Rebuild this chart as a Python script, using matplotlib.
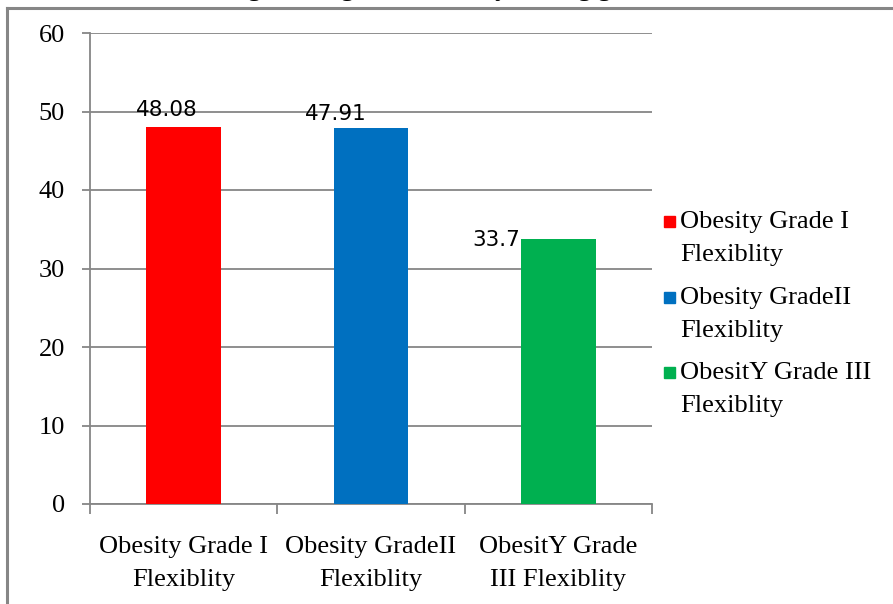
import matplotlib
matplotlib.use("Agg")
import matplotlib.pyplot as plt
from matplotlib.patches import Rectangle

# flexibility scores by obesity grade
categories = ["Obesity Grade I\nFlexiblity",
              "Obesity GradeII\nFlexiblity",
              "ObesitY Grade\nIII Flexiblity"]
legend_labels = ["Obesity Grade I\nFlexiblity",
                 "Obesity GradeII\nFlexiblity",
                 "ObesitY Grade III\nFlexiblity"]
values = [48.08, 47.91, 33.7]
value_text = ["48.08", "47.91", "33.7"]
colors = ["#FF0000", "#0070C0", "#00B050"]
yticks = [0, 10, 20, 30, 40, 50, 60]

W, H = 893, 604
grey = "#868686"
serif = "Liberation Serif"

fig = plt.figure(figsize=(W / 100, H / 100), dpi=100)

def fx(px):
    return px / W

def fy(px):
    return 1 - px / H

# outer chart frame (only the left and top edges fall inside the image)
fig.add_artist(plt.Line2D([fx(7), fx(7)], [fy(8), 0], color=grey, lw=2.2,
                          transform=fig.transFigure))
fig.add_artist(plt.Line2D([fx(7), 1], [fy(8), fy(8)], color=grey, lw=2.2,
                          transform=fig.transFigure))

# title sits above the visible area, only its descenders show
fig.text(0.46, fy(-4), "Percentage Change in flexibility among grades",
         ha="center", va="baseline", fontsize=19, fontweight="bold",
         family=serif)

ax = fig.add_axes([fx(90), 1 - 504 / H, fx(652 - 90), 471 / H])
x = list(range(len(values)))
ax.bar(x, values, width=0.4, color=colors, zorder=3)

ax.set_xlim(-0.5, len(values) - 0.5)
ax.set_ylim(0, 60)
ax.set_yticks(yticks)
ax.yaxis.grid(True, color=grey, lw=1.3)
ax.set_axisbelow(True)

for side in ("top", "right"):
    ax.spines[side].set_visible(False)
for side in ("left", "bottom"):
    ax.spines[side].set_color(grey)
    ax.spines[side].set_linewidth(1.3)

ax.set_xticks(x)
ax.set_xticklabels(categories, family=serif, fontsize=19, linespacing=1.65)
ax.tick_params(axis="x", which="major", length=0, pad=23)
ax.set_xticks([i - 0.5 for i in range(len(values) + 1)], minor=True)
ax.tick_params(axis="x", which="minor", length=7, color=grey, width=1.3)
ax.tick_params(axis="y", length=6, color=grey, width=1.3, pad=12,
               labelsize=19)
for lab in ax.get_yticklabels():
    lab.set_family(serif)

# value labels, nudged left of each bar
offsets = [(-17, 7), (-35, 4), (-62, -11)]
for xi, v, t, off in zip(x, values, value_text, offsets):
    ax.annotate(t, (xi, v), xytext=off, textcoords="offset pixels",
                ha="center", va="bottom", fontsize=15.5,
                family="DejaVu Sans", color="black")

# legend: square key aligned with the first line of each label
for i, (lab, c) in enumerate(zip(legend_labels, colors)):
    top = 212 + i * 75.5
    fig.add_artist(Rectangle((fx(664), fy(top + 15)), fx(11), 11 / H,
                             color=c, transform=fig.transFigure))
    fig.text(fx(680), fy(top - 1), lab, ha="left", va="top", fontsize=19,
             family=serif, linespacing=1.65)

fig.savefig("out.png", dpi=100)
